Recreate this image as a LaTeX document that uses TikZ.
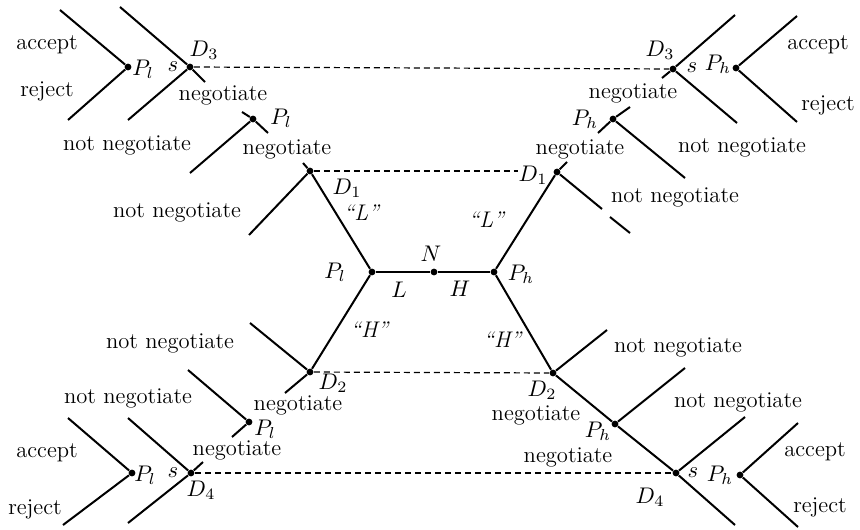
\documentclass[tikz,border=0pt]{standalone}
\usepackage{fix-cm}
\usepackage{fontspec}
\begin{document}
\begin{tikzpicture}[x=0.5pt,y=-0.5pt,
  edge/.style={line width=1pt},
  info/.style={line width=0.6pt, dash pattern=on 3pt off 2pt},
  dot/.style={circle,fill=black,inner sep=0pt,minimum size=3.4pt},
  lbl/.style={font=\fontsize{11.3}{13}\selectfont, inner sep=0pt}]
\useasboundingbox (0,0) rectangle (860,529);
% decision nodes
\node[dot] (N)   at (434,272) {};
\node[dot] (PL)  at (372,272) {};
\node[dot] (PH)  at (494,272) {};
\node[dot] (D1L) at (310,171) {};
\node[dot] (D1R) at (557,172) {};
\node[dot] (D2L) at (310,372) {};
\node[dot] (D2R) at (553,373) {};
\node[dot] (P2L) at (253,119) {};
\node[dot] (P2R) at (613,119) {};
\node[dot] (P3L) at (249,422) {};
\node[dot] (P3R) at (615,424) {};
\node[dot] (D3L) at (190,67) {};
\node[dot] (D3R) at (673,69) {};
\node[dot] (D4L) at (191,473) {};
\node[dot] (D4R) at (676,473) {};
\node[dot] (PAL) at (128,67) {};
\node[dot] (PAR) at (736,68) {};
\node[dot] (PBL) at (132,473) {};
\node[dot] (PBR) at (740,475) {};
% free ends
\coordinate (a1) at (60,10);   \coordinate (a2) at (68,120);
\coordinate (a3) at (120,7);   \coordinate (a4) at (205,82);
\coordinate (a5) at (128,120);
\coordinate (a6) at (242,112); \coordinate (a7) at (268,133);
\coordinate (a8) at (190,173);
\coordinate (a9) at (303,163); \coordinate (a10) at (249,235);
\coordinate (b1) at (797,16);  \coordinate (b2) at (797,122);
\coordinate (b3) at (735,15);  \coordinate (b4) at (662,78);
\coordinate (b5) at (737,123);
\coordinate (b6) at (630,107); \coordinate (b7) at (598,133);
\coordinate (b8) at (685,178);
\coordinate (b9) at (567,162); \coordinate (b10) at (602,209);
\coordinate (b11) at (610,217); \coordinate (b12) at (630,233);
\coordinate (c1) at (250,323); \coordinate (c2) at (285,393);
\coordinate (c3) at (188,370); \coordinate (c4) at (232,437);
\coordinate (c5) at (128,418); \coordinate (c6) at (203,462);
\coordinate (c7) at (128,523);
\coordinate (c8) at (68,418);  \coordinate (c9) at (63,525);
\coordinate (e1) at (607,330); \coordinate (e2) at (685,368);
\coordinate (e3) at (745,417); \coordinate (e4) at (735,525);
\coordinate (e5) at (798,423); \coordinate (e6) at (798,527);
% labels
\node[lbl] at (47,45) {accept};
\node[lbl] at (47,91) {reject};
\node[lbl] at (143,69) {$P_l$};
\node[lbl] at (173,67) {$s$};
\node[lbl] at (204,50) {$D_3$};
\node[lbl] at (223,95) {negotiate};
\node[lbl] at (281,118) {$P_l$};
\node[lbl] at (127,145) {not negotiate};
\node[lbl] at (287,149) {negotiate};
\node[lbl] at (660,50) {$D_3$};
\node[lbl] at (692,68) {$s$};
\node[lbl] at (718,64) {$P_h$};
\node[lbl] at (818,45) {accept};
\node[lbl] at (828,105) {reject};
\node[lbl] at (633,93) {negotiate};
\node[lbl] at (585,119) {$P_h$};
\node[lbl] at (742,147) {not negotiate};
\node[lbl] at (580,149) {negotiate};
\node[lbl] at (347,188) {$D_1$};
\node[lbl] (d1rlab) at (533,175) {$D_1$};
\node[lbl] at (177,212) {not negotiate};
\node[lbl] at (675,197) {not negotiate};
\node[lbl] at (362,213) {\textit{``L''}};
\node[lbl] at (487,220) {\textit{``L''}};
\node[lbl] at (335,272) {$P_l$};
\node[lbl] at (431,254) {$N$};
\node[lbl] at (521,274) {$P_h$};
\node[lbl] at (399,290) {$L$};
\node[lbl] at (460,289) {$H$};
\node[lbl] at (370,330) {\textit{``H''}};
\node[lbl] at (503,340) {\textit{``H''}};
\node[lbl] at (170,343) {not negotiate};
\node[lbl] at (678,347) {not negotiate};
\node[lbl] at (333,383) {$D_2$};
\node[lbl] at (542,390) {$D_2$};
\node[lbl] at (128,398) {not negotiate};
\node[lbl] at (298,405) {negotiate};
\node[lbl] at (265,429) {$P_l$};
\node[lbl] at (237,450) {negotiate};
\node[lbl] at (536,415) {negotiate};
\node[lbl] at (598,431) {$P_h$};
\node[lbl] at (738,402) {not negotiate};
\node[lbl] at (568,457) {negotiate};
\node[lbl] at (47,453) {accept};
\node[lbl] at (35,509) {reject};
\node[lbl] at (145,475) {$P_l$};
\node[lbl] at (173,473) {$s$};
\node[lbl] at (201,490) {$D_4$};
\node[lbl] at (650,497) {$D_4$};
\node[lbl] at (693,473) {$s$};
\node[lbl] at (720,475) {$P_h$};
\node[lbl] at (815,452) {accept};
\node[lbl] at (820,507) {reject};
% solid edges
\draw[edge] (PL) -- (N) -- (PH);
\draw[edge] (PL) -- (D1L);
\draw[edge] (PL) -- (D2L);
\draw[edge] (PH) -- (D1R);
\draw[edge] (PH) -- (D2R);
\draw[edge] (a1) -- (PAL) -- (a2);
\draw[edge] (a3) -- (D3L) -- (a4);
\draw[edge] (D3L) -- (a5);
\draw[edge] (a6) -- (P2L) -- (a7);
\draw[edge] (P2L) -- (a8);
\draw[edge] (a9) -- (D1L) -- (a10);
\draw[edge] (b1) -- (PAR) -- (b2);
\draw[edge] (b3) -- (D3R) -- (b4);
\draw[edge] (D3R) -- (b5);
\draw[edge] (b6) -- (P2R) -- (b7);
\draw[edge] (P2R) -- (b8);
\draw[edge] (b9) -- (D1R) -- (b10);
\draw[edge] (b11) -- (b12);
\draw[edge] (c1) -- (D2L) -- (c2);
\draw[edge] (c3) -- (P3L) -- (c4);
\draw[edge] (c5) -- (D4L) -- (c6);
\draw[edge] (D4L) -- (c7);
\draw[edge] (c8) -- (PBL) -- (c9);
\draw[edge] (D2R) -- (P3R) -- (D4R) -- (e4);
\draw[edge] (D2R) -- (e1);
\draw[edge] (P3R) -- (e2);
\draw[edge] (D4R) -- (e3);
\draw[edge] (e5) -- (PBR) -- (e6);
% information sets
\draw[info] (D3L) -- (D3R);
\draw[info] (D1L) -- (D1L -| d1rlab.west);
\draw[info] (D2L) -- (D2R);
\draw[info] (D4L) -- (D4R);
\end{tikzpicture}
\end{document}
